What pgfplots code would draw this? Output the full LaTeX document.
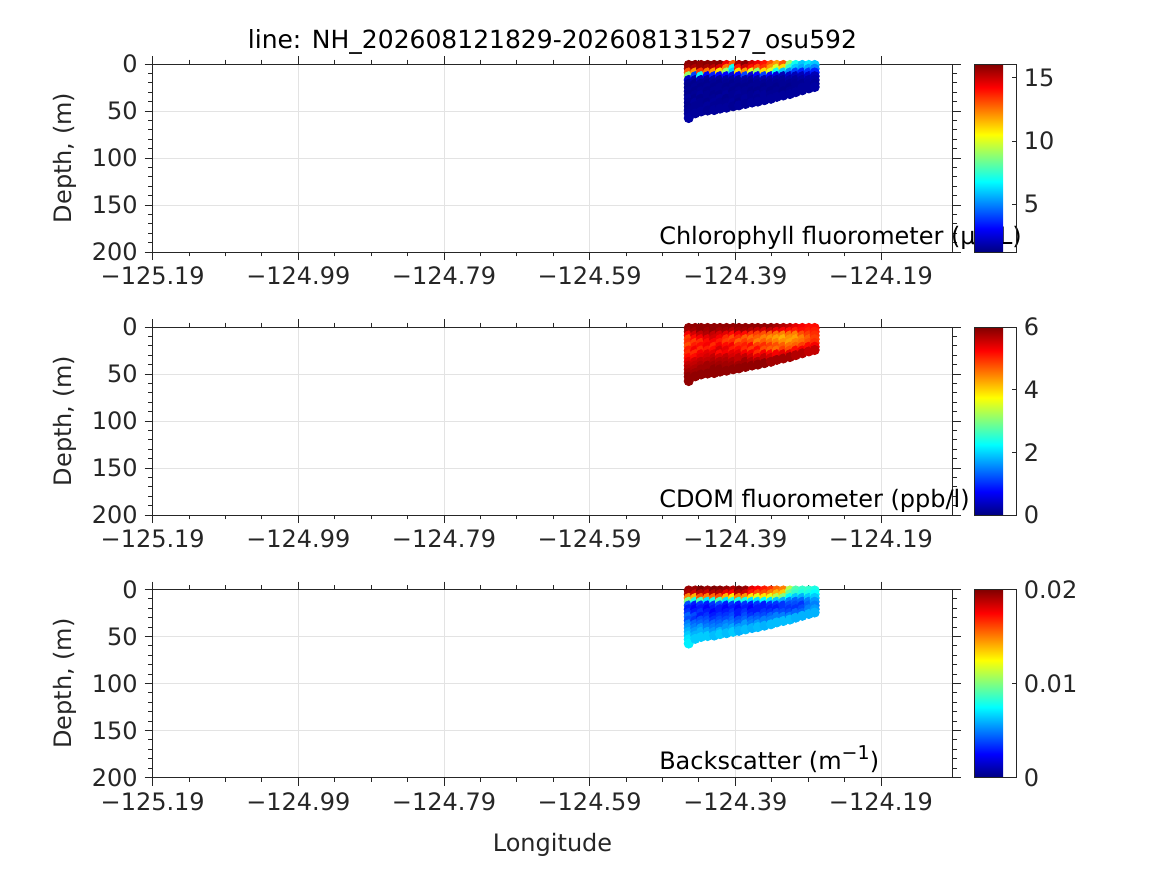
\documentclass[border=0pt]{standalone}
\usepackage{fontspec}
\setmainfont{DejaVu Sans}
\usepackage{pgfplots}
\usepackage{pgfplotstable}
\pgfplotsset{compat=1.18}

% glider profiles: longitude, depth (m), chlorophyll, CDOM, backscatter
\pgfplotstableread{
lon dep chl cdom bb
-124.454 1 15.9 5.9 0.0195
-124.454 5 15.6 5.8 0.019
-124.454 9 13.0 5.3 0.015
-124.454 13 9.0 4.9 0.010
-124.454 17 2.2 5.0 0.004
-124.454 21 1.5 4.8 0.003
-124.454 25 1.4 5.1 0.0035
-124.454 29 1.5 5.0 0.0045
-124.454 33 1.4 5.2 0.004
-124.454 37 1.6 5.4 0.005
-124.454 41 1.5 5.6 0.0055
-124.454 45 1.4 5.7 0.006
-124.454 49 1.5 5.8 0.0065
-124.454 53 1.6 5.9 0.007
-124.454 57.5 1.7 5.9 0.0072
-124.445 1 16.0 5.9 0.0195
-124.445 5 15.4 5.8 0.0185
-124.445 9 12.0 5.5 0.014
-124.445 13 4.0 5.2 0.008
-124.445 17 1.8 4.9 0.003
-124.445 21 1.4 5.1 0.0025
-124.445 25 1.5 5.3 0.003
-124.445 29 1.4 5.0 0.004
-124.445 33 1.5 5.2 0.0035
-124.445 37 1.4 5.5 0.0045
-124.445 41 1.6 5.6 0.005
-124.445 45 1.5 5.7 0.0055
-124.445 49 1.5 5.8 0.006
-124.445 52.5 1.6 5.9 0.0065
-124.437 1 15.8 5.9 0.020
-124.437 5 15.7 5.9 0.019
-124.437 9 13.5 5.6 0.016
-124.437 13 7.0 5.3 0.009
-124.437 17 2.0 5.0 0.0035
-124.437 21 1.5 5.2 0.003
-124.437 25 1.4 5.0 0.0035
-124.437 29 1.5 5.3 0.003
-124.437 33 1.6 5.4 0.004
-124.437 37 1.4 5.6 0.0045
-124.437 41 1.5 5.7 0.0055
-124.437 45 1.5 5.8 0.006
-124.437 50.5 1.6 5.9 0.0065
-124.428 1 16.0 5.9 0.0195
-124.428 5 15.5 5.8 0.0185
-124.428 9 12.5 5.7 0.015
-124.428 13 3.0 5.4 0.007
-124.428 17 1.6 5.2 0.003
-124.428 21 1.4 5.3 0.0025
-124.428 25 1.5 5.1 0.003
-124.428 29 1.4 5.4 0.0035
-124.428 33 1.5 5.5 0.004
-124.428 37 1.5 5.6 0.0045
-124.428 41 1.4 5.8 0.005
-124.428 45 1.6 5.8 0.0058
-124.428 49.5 1.5 5.9 0.0065
-124.419 1 15.9 5.9 0.020
-124.419 5 15.2 5.9 0.019
-124.419 9 12.0 5.6 0.0155
-124.419 13 3.5 5.5 0.008
-124.419 17 1.7 5.3 0.0035
-124.419 21 1.5 5.0 0.003
-124.419 25 1.4 5.2 0.0025
-124.419 29 1.5 5.4 0.003
-124.419 33 1.4 5.6 0.0035
-124.419 37 1.5 5.7 0.0045
-124.419 41 1.6 5.8 0.005
-124.419 45 1.5 5.9 0.0055
-124.419 49 1.6 5.9 0.0062
-124.411 1 16.0 5.9 0.0198
-124.411 5 14.8 5.8 0.019
-124.411 9 11.0 5.5 0.016
-124.411 13 3.0 5.3 0.009
-124.411 17 1.6 5.1 0.004
-124.411 21 1.4 5.3 0.003
-124.411 25 1.5 5.5 0.003
-124.411 29 1.5 5.2 0.0035
-124.411 33 1.4 5.5 0.004
-124.411 37 1.6 5.7 0.0045
-124.411 41 1.5 5.8 0.005
-124.411 45 1.5 5.9 0.006
-124.411 47.5 1.6 5.9 0.0065
-124.402 1 14.5 5.9 0.0195
-124.402 5 12.5 5.8 0.018
-124.402 9 9.0 5.4 0.014
-124.402 13 3.0 5.0 0.007
-124.402 17 1.7 4.9 0.003
-124.402 21 1.5 5.2 0.0025
-124.402 25 1.4 5.4 0.003
-124.402 29 1.5 5.3 0.0035
-124.402 33 1.6 5.6 0.004
-124.402 37 1.4 5.7 0.005
-124.402 41 1.5 5.8 0.0055
-124.402 46.5 1.6 5.9 0.0062
-124.393 1 13.0 5.9 0.019
-124.393 5 7.0 5.7 0.0175
-124.393 9 6.0 5.2 0.013
-124.393 13 2.5 4.8 0.008
-124.393 17 1.6 5.0 0.0035
-124.393 21 1.4 5.3 0.003
-124.393 25 1.5 5.1 0.0035
-124.393 29 1.4 5.4 0.004
-124.393 33 1.5 5.5 0.0045
-124.393 37 1.5 5.7 0.005
-124.393 41 1.6 5.8 0.0058
-124.393 45 1.5 5.9 0.0065
-124.385 1 15.5 5.9 0.0198
-124.385 5 14.0 5.8 0.019
-124.385 9 11.0 5.3 0.015
-124.385 13 3.0 5.0 0.008
-124.385 17 1.6 4.7 0.003
-124.385 21 1.5 5.0 0.0025
-124.385 25 1.4 5.2 0.003
-124.385 29 1.5 5.4 0.003
-124.385 33 1.6 5.6 0.004
-124.385 37 1.5 5.6 0.0045
-124.385 41 1.4 5.8 0.0055
-124.385 44 1.6 5.9 0.006
-124.376 1 16.0 5.9 0.0195
-124.376 5 15.0 5.8 0.0185
-124.376 9 12.0 5.2 0.0145
-124.376 13 4.0 4.7 0.008
-124.376 17 1.7 4.9 0.0035
-124.376 21 1.5 5.1 0.003
-124.376 25 1.4 5.0 0.0035
-124.376 29 1.5 5.3 0.004
-124.376 33 1.5 5.6 0.0045
-124.376 37 1.6 5.8 0.0055
-124.376 42.5 1.5 5.9 0.0062
-124.367 1 15.0 5.9 0.018
-124.367 5 14.0 5.7 0.017
-124.367 9 10.0 5.0 0.013
-124.367 13 2.5 4.6 0.007
-124.367 17 1.6 4.8 0.003
-124.367 21 1.4 5.2 0.0025
-124.367 25 1.5 4.9 0.003
-124.367 29 1.4 5.3 0.0035
-124.367 33 1.5 5.5 0.0045
-124.367 37 1.5 5.7 0.005
-124.367 41 1.6 5.9 0.006
-124.359 1 14.5 5.9 0.0175
-124.359 5 13.0 5.6 0.016
-124.359 9 9.0 4.9 0.012
-124.359 13 3.0 4.7 0.007
-124.359 17 1.7 4.5 0.0035
-124.359 21 1.5 4.9 0.003
-124.359 25 1.5 5.2 0.003
-124.359 29 1.4 5.0 0.004
-124.359 33 1.6 5.4 0.0045
-124.359 37 1.5 5.7 0.0055
-124.359 40 1.6 5.9 0.0062
-124.350 1 14.0 5.9 0.017
-124.350 5 13.5 5.5 0.016
-124.350 9 11.0 4.8 0.013
-124.350 13 4.0 4.5 0.0075
-124.350 17 1.8 4.7 0.003
-124.350 21 1.5 5.0 0.003
-124.350 25 1.4 4.8 0.0035
-124.350 29 1.5 5.3 0.004
-124.350 33 1.6 5.6 0.005
-124.350 38.5 1.6 5.9 0.006
-124.341 1 13.0 5.9 0.0165
-124.341 5 12.0 5.6 0.015
-124.341 9 10.0 4.7 0.012
-124.341 13 3.0 4.4 0.007
-124.341 17 1.7 4.6 0.0035
-124.341 21 1.5 4.9 0.003
-124.341 25 1.5 4.7 0.0035
-124.341 29 1.4 5.2 0.0045
-124.341 33 1.5 5.5 0.005
-124.341 37 1.6 5.8 0.0062
-124.333 1 12.0 5.8 0.0155
-124.333 5 10.0 5.4 0.014
-124.333 9 7.0 4.6 0.011
-124.333 13 2.5 4.3 0.0065
-124.333 17 1.7 4.5 0.0035
-124.333 21 1.5 4.8 0.003
-124.333 25 1.4 4.6 0.004
-124.333 29 1.5 5.3 0.005
-124.333 35 1.6 5.8 0.0062
-124.324 1 13.0 5.7 0.015
-124.324 5 11.0 5.3 0.0135
-124.324 9 6.0 4.5 0.010
-124.324 13 2.0 4.2 0.006
-124.324 17 1.6 4.4 0.0035
-124.324 21 1.5 4.7 0.0035
-124.324 25 1.5 4.9 0.004
-124.324 29 1.4 5.4 0.005
-124.324 33.5 1.6 5.8 0.0062
-124.315 1 9.0 5.6 0.011
-124.315 5 7.5 5.2 0.0095
-124.315 9 5.0 4.6 0.0075
-124.315 13 2.2 4.4 0.005
-124.315 17 1.7 4.3 0.004
-124.315 21 1.5 4.6 0.0035
-124.315 25 1.4 4.8 0.004
-124.315 29 1.5 5.4 0.005
-124.315 32 1.6 5.8 0.0062
-124.307 1 7.0 5.4 0.009
-124.307 5 6.0 5.1 0.0085
-124.307 9 4.0 4.5 0.0065
-124.307 13 2.0 4.3 0.0045
-124.307 17 1.6 4.5 0.004
-124.307 21 1.5 4.7 0.0035
-124.307 25 1.5 5.2 0.0045
-124.307 30 1.6 5.7 0.006
-124.298 1 6.0 5.3 0.0085
-124.298 5 5.5 5.2 0.008
-124.298 9 3.5 4.8 0.006
-124.298 13 2.0 4.5 0.0045
-124.298 17 1.7 4.6 0.0035
-124.298 21 1.5 4.9 0.004
-124.298 25 1.6 5.3 0.0045
-124.298 28 1.6 5.7 0.006
-124.289 1 6.5 5.2 0.0085
-124.289 5 5.5 5.1 0.008
-124.289 9 3.8 4.9 0.0065
-124.289 13 2.2 4.7 0.005
-124.289 17 1.7 4.8 0.0045
-124.289 21 1.6 5.2 0.005
-124.289 26 1.6 5.6 0.006
-124.281 1 6.0 5.2 0.008
-124.281 5 5.0 5.1 0.0075
-124.281 9 3.5 5.0 0.0065
-124.281 13 2.0 4.9 0.0055
-124.281 17 1.8 5.0 0.005
-124.281 21 1.6 5.3 0.0055
-124.281 24.5 1.7 5.6 0.006
}\glider

\definecolor{axcol}{gray}{0.15}

\tikzset{
  inlabel/.style={anchor=base west, inner sep=0pt,
    font=\fontsize{12}{14}\selectfont, text=black},
}

\pgfplotsset{
  /pgf/number format/assume math mode=true,
  panel/.style={
    scale only axis,
    width=400pt, height=94pt,
    anchor=north west,
    xmin=-125.19, xmax=-124.0915,
    ymin=0, ymax=200, y dir=reverse,
    xtick={-125.19,-124.99,-124.79,-124.59,-124.39,-124.19},
    xticklabels={−125.19,−124.99,−124.79,−124.59,−124.39,−124.19},
    ytick={0,50,100,150,200},
    minor x tick num=3, minor y tick num=4,
    tick align=outside,
    major tick length=4pt, minor tick length=2.2pt,
    grid=major,
    major grid style={gray!22, line width=0.4pt},
    axis line style={axcol, line width=0.45pt},
    every tick/.style={axcol, line width=0.45pt},
    tick label style={font=\fontsize{12}{14}\selectfont, text=axcol},
    ylabel={Depth, (m)},
    every axis y label/.style={at={(rel axis cs:0,0.5)}, xshift=-43.8pt,
      rotate=90, anchor=center, font=\fontsize{12}{14}\selectfont, text=axcol},
    clip mode=individual,
    colormap/jet,
    colorbar,
    colorbar style={
      at={(parent axis.north east)}, anchor=north west, xshift=2.5pt,
      width=21pt,
      scaled y ticks=false,
      axis line style={axcol, line width=0.45pt},
      every tick/.style={axcol, line width=0.45pt},
      tick align=inside, major tick length=2.5pt,
      ytick pos=right,
      yticklabel style={font=\fontsize{12}{14}\selectfont, text=axcol},
    },
  },
  glider/.style={
    scatter, only marks, mark=*, mark size=2.3pt,
    scatter/use mapped color={draw=mapped color, fill=mapped color},
  },
}

\begin{document}
\begin{tikzpicture}
\useasboundingbox (0,0) rectangle (583.5pt,437.5pt);

\begin{axis}[panel, at={(76.35pt,405.5pt)},
  point meta min=1.2, point meta max=16.1,
  colorbar style={ytick={5,10,15}}]
\addplot[glider, point meta=\thisrow{chl}] table[x=lon, y=dep] {\glider};
\node[inlabel] at (axis cs:-124.495,191.5) {Chlorophyll fluorometer (µg/L)};
\end{axis}

\begin{axis}[panel, at={(76.35pt,274pt)},
  point meta min=0, point meta max=6,
  colorbar style={ytick={0,2,4,6}}]
\addplot[glider, point meta=\thisrow{cdom}] table[x=lon, y=dep] {\glider};
\node[inlabel] at (axis cs:-124.495,191.5) {CDOM fluorometer (ppb/l)};
\end{axis}

\begin{axis}[panel, at={(76.35pt,142.75pt)},
  point meta min=0, point meta max=0.02,
  colorbar style={ytick={0,0.01,0.02}, yticklabels={0,0.01,0.02}}]
\addplot[glider, point meta=\thisrow{bb}] table[x=lon, y=dep] {\glider};
\node[inlabel] at (axis cs:-124.495,191.5) {Backscatter (m\raisebox{0.42em}{\fontsize{9.5}{10}\selectfont −1})};
\end{axis}

\node[font=\fontsize{12.5}{14}\selectfont, text=black] at (276.25pt,416.5pt)
  {line: NH\_202608121829-202608131527\_osu592};
\node[font=\fontsize{12}{14}\selectfont, text=axcol] at (276.25pt,15pt) {Longitude};
\end{tikzpicture}
\end{document}
